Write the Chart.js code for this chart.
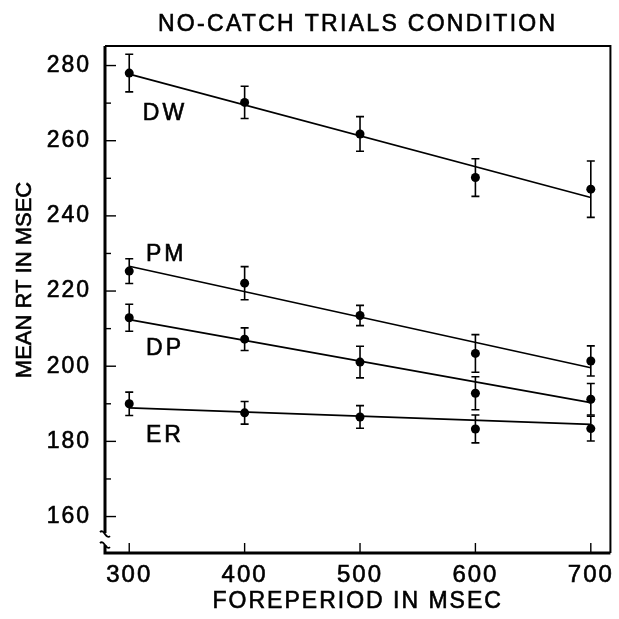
<!DOCTYPE html>
<html>
<head>
<meta charset="utf-8">
<script src="https://cdn.jsdelivr.net/npm/chart.js@4"></script>
<style>
  html, body { margin: 0; padding: 0; background: #fff; }
  #wrap { width: 619px; height: 619px; }
</style>
</head>
<body>
<div id="wrap"><canvas id="myChart"></canvas></div>
<script>
'use strict';

// values
const foreperiods = [300, 400, 500, 600, 700];
const xTicks = [300, 400, 500, 600, 700];
const yTicks = [160, 180, 200, 220, 240, 260, 280];

const dwMeans = [278.0, 270.2, 261.8, 250.2, 247.1];
const dwErr = [5.0, 4.3, 4.6, 5.0, 7.5];
const pmMeans = [225.3, 222.1, 213.5, 203.4, 201.4];
const pmErr = [3.3, 4.4, 2.7, 5.0, 4.0];
const dpMeans = [212.9, 207.2, 201.1, 192.8, 191.2];
const dpErr = [3.6, 3.0, 4.2, 4.4, 4.2];
const erMeans = [190.0, 187.6, 186.5, 183.3, 183.4];
const erErr = [3.1, 3.0, 3.0, 3.7, 3.3];

// fitted lines, end points at 300 and 700 msec
const lineX = [300, 700];
const dwFit = [277.7, 244.9];
const pmFit = [226.6, 199.6];
const dpFit = [212.4, 190.3];
const erFit = [188.9, 184.5];

const groupNames = ['DW', 'PM', 'DP', 'ER'];
const labelX = [331, 332, 331, 331];
const labelY = [267.2, 229.8, 204.7, 181.6];

const FONT = '"Liberation Sans", Arial, sans-serif';

function pts(xs, ys) {
  return xs.map((x, i) => ({ x: x, y: ys[i] }));
}

const groups = [
  { means: dwMeans, err: dwErr, fit: dwFit },
  { means: pmMeans, err: pmErr, fit: pmFit },
  { means: dpMeans, err: dpErr, fit: dpFit },
  { means: erMeans, err: erErr, fit: erFit }
];

const datasets = [];
groups.forEach((g, i) => {
  datasets.push({
    label: groupNames[i] + ' fit',
    data: pts(lineX, g.fit),
    showLine: true,
    borderColor: '#000',
    borderWidth: 1.7,
    pointRadius: 0
  });
  datasets.push({
    label: groupNames[i],
    data: pts(foreperiods, g.means),
    errors: g.err,
    showLine: false,
    pointRadius: 4.5,
    pointBackgroundColor: '#000',
    pointBorderColor: '#000',
    pointBorderWidth: 0
  });
});

// draw text with a thin stroke so it looks like the heavier lettering
function heavyText(ctx, txt, x, y) {
  ctx.fillText(txt, x, y);
  ctx.strokeText(txt, x, y);
}

// error bars, group labels, inward ticks, frame and titles
const decor = {
  id: 'decor',
  beforeDraw(chart) {
    chart.ctx.letterSpacing = '2px';
  },
  afterDatasetsDraw(chart) {
    const ctx = chart.ctx;
    const xs = chart.scales.x;
    const ys = chart.scales.y;
    const area = chart.chartArea;
    ctx.save();
    ctx.strokeStyle = '#000';
    ctx.fillStyle = '#000';

    // error bars
    ctx.lineWidth = 1.6;
    chart.data.datasets.forEach(ds => {
      if (!ds.errors) return;
      ds.data.forEach((p, i) => {
        const px = xs.getPixelForValue(p.x);
        const top = ys.getPixelForValue(p.y + ds.errors[i]);
        const bot = ys.getPixelForValue(p.y - ds.errors[i]);
        ctx.beginPath();
        ctx.moveTo(px, top); ctx.lineTo(px, bot);
        ctx.moveTo(px - 4, top); ctx.lineTo(px + 4, top);
        ctx.moveTo(px - 4, bot); ctx.lineTo(px + 4, bot);
        ctx.stroke();
      });
    });

    // inward ticks
    ctx.lineWidth = 1.4;
    for (let v = 160; v <= 280; v += 10) {
      const py = ys.getPixelForValue(v);
      const len = v % 20 === 0 ? 11 : 6;
      ctx.beginPath();
      ctx.moveTo(area.left, py); ctx.lineTo(area.left + len, py);
      ctx.stroke();
    }
    xTicks.forEach(v => {
      const px = xs.getPixelForValue(v);
      ctx.beginPath();
      ctx.moveTo(px, area.bottom); ctx.lineTo(px, area.bottom - 10);
      ctx.stroke();
    });

    // frame
    ctx.lineWidth = 3;
    ctx.beginPath();
    ctx.moveTo(area.left, area.top); ctx.lineTo(area.left, area.bottom);
    ctx.lineTo(area.right, area.bottom);
    ctx.stroke();
    ctx.lineWidth = 2;
    ctx.beginPath();
    ctx.moveTo(area.left, area.top); ctx.lineTo(area.right, area.top);
    ctx.lineTo(area.right, area.bottom);
    ctx.stroke();

    // axis break on the y axis
    const by = ys.getPixelForValue(154);
    ctx.fillStyle = '#fff';
    ctx.fillRect(area.left - 3, by - 6, 6, 12);
    ctx.lineWidth = 1.8;
    [by - 5, by + 6].forEach(yy => {
      ctx.beginPath();
      ctx.moveTo(area.left - 5, yy - 2);
      ctx.bezierCurveTo(area.left - 1, yy - 6, area.left + 1, yy + 6, area.left + 5, yy + 2);
      ctx.stroke();
    });

    // group labels
    ctx.fillStyle = '#000';
    ctx.lineWidth = 0.6;
    ctx.font = '23px ' + FONT;
    ctx.letterSpacing = '3px';
    ctx.textAlign = 'center';
    ctx.textBaseline = 'middle';
    groupNames.forEach((n, i) => {
      heavyText(ctx, n, xs.getPixelForValue(labelX[i]), ys.getPixelForValue(labelY[i]));
    });

    // chart title
    ctx.font = '23px ' + FONT;
    ctx.letterSpacing = '2.3px';
    heavyText(ctx, 'NO-CATCH TRIALS CONDITION', (area.left + area.right) / 2, 25);

    // x axis title
    ctx.letterSpacing = '2px';
    heavyText(ctx, 'FOREPERIOD IN MSEC', (area.left + area.right) / 2, 602);

    // y axis title
    ctx.letterSpacing = '0px';
    ctx.font = '22px ' + FONT;
    ctx.translate(25, 280);
    ctx.rotate(-Math.PI / 2);
    heavyText(ctx, 'MEAN RT IN MSEC', 0, 0);
    ctx.restore();
  }
};

const ctx = document.getElementById('myChart').getContext('2d');

const myChart = new Chart(ctx, {
  type: 'scatter',
  data: { datasets: datasets },
  options: {
    responsive: true,
    maintainAspectRatio: false,
    animation: false,
    layout: { padding: { top: 46, right: 4, left: 0, bottom: 0 } },
    plugins: {
      legend: { display: false },
      tooltip: { enabled: false }
    },
    scales: {
      x: {
        type: 'linear',
        min: 279,
        max: 717,
        afterBuildTicks: s => { s.ticks = xTicks.map(v => ({ value: v })); },
        afterFit: s => { s.height = 66; },
        grid: { display: false, drawTicks: false },
        border: { display: false },
        ticks: {
          color: '#000',
          padding: 8,
          maxRotation: 0,
          textStrokeColor: '#000',
          textStrokeWidth: 0.6,
          font: { family: FONT, size: 24 }
        }
      },
      y: {
        type: 'linear',
        min: 150.3,
        max: 285.2,
        afterBuildTicks: s => { s.ticks = yTicks.map(v => ({ value: v })); },
        afterFit: s => { s.width = 105; },
        grid: { display: false, drawTicks: false },
        border: { display: false },
        ticks: {
          color: '#000',
          padding: 14,
          textStrokeColor: '#000',
          textStrokeWidth: 0.6,
          font: { family: FONT, size: 23 }
        }
      }
    }
  },
  plugins: [decor]
});
</script>
</body>
</html>
